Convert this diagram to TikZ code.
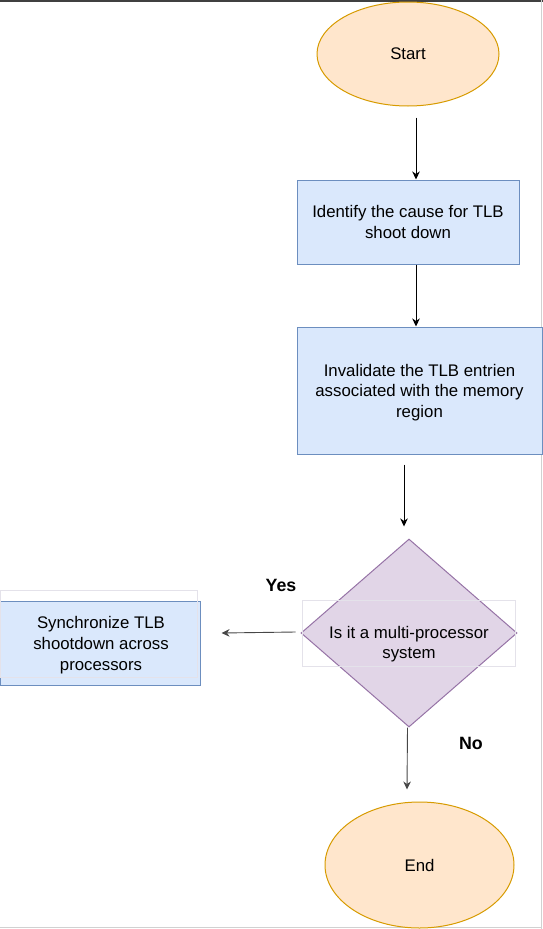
\documentclass[tikz,border=0pt]{standalone}
\usepackage{fontspec}
\setmainfont{Liberation Sans}
\usepackage{tikz}
\usetikzlibrary{positioning,arrows.meta,calc,shapes.geometric}
\definecolor{procfill}{HTML}{DAE8FC}
\definecolor{procline}{HTML}{6C8EBF}
\definecolor{termfill}{HTML}{FFE6CC}
\definecolor{termline}{HTML}{D79B00}
\definecolor{decfill}{HTML}{E1D5E7}
\definecolor{decline}{HTML}{9673A6}
\definecolor{ghostline}{HTML}{E4E2EA}
\tikzset{
  base/.style={font=\fontsize{16.8}{20.2}\selectfont, align=center, inner sep=0pt},
  term/.style={base, ellipse, draw=termline, fill=termfill, line width=1pt},
  proc/.style={base, rectangle, draw=procline, fill=procfill, line width=1pt},
  decision/.style={base, diamond, draw=decline, fill=decfill, line width=1pt, shape aspect=1.15},
  ghost/.style={rectangle, draw=ghostline, line width=1pt, inner sep=0pt},
  flow/.style={-{Stealth[length=8pt,width=7.5pt,inset=2.5pt]}, line width=0.9pt},
  branch/.style={flow, draw=black!72},
  tag/.style={font=\fontsize{17.8}{20}\selectfont\bfseries, inner sep=0pt}
}

\begin{document}
\begin{tikzpicture}[x=1pt,y=-1pt]
  \useasboundingbox (0,0) rectangle (543,929);
  % frame
  \draw[black!75,line width=1.5pt] (0,0.75) -- (543,0.75);
  \draw[black!18,line width=1pt] (541.5,0) -- (541.5,929);
  \draw[black!18,line width=1pt] (0,927.5) -- (541.5,927.5);
  % nodes
  \node[term, minimum width=182pt, minimum height=104pt] (start) at (408,54) {Start};
  \node[proc, minimum width=222pt, minimum height=84pt] (cause) at (408,222)
    {Identify the cause for TLB\\shoot down};
  \node[proc, minimum width=245pt, minimum height=127pt] (inval) at (419.5,390.5) {};
  \node[base] (invaltext) at (419.5,392.5)
    {Invalidate the TLB entrien\\associated with the memory\\region};
  \node[decision, minimum width=216pt, minimum height=188pt] (multi) at (409,633) {};
  \node[ghost, minimum width=213pt, minimum height=66pt] (multibox) at (408.5,633) {};
  \node[base] (multitext) at (409,644.5) {Is it a multi-processor\\system};
  \node[proc, minimum width=200pt, minimum height=84pt] (sync) at (100,643) {};
  \node[ghost, minimum width=197pt, minimum height=87pt] (syncbox) at (98.5,633.5) {};
  \node[base, font=\fontsize{16.8}{21}\selectfont] (synctext) at (101,645)
    {Synchronize TLB\\shootdown across\\processors};
  \node[term, minimum width=189pt, minimum height=126pt] (finish) at (419.5,865) {End};
  % connectors
  \draw[flow] ($(start.south)+(8,11)$) -- ($(cause.north)+(8,0)$);
  \draw[flow] ($(cause.south)+(8,0)$) -- ($(inval.north)+(-3.5,0)$);
  \draw[flow] ($(inval.south)+(-15.5,10)$) -- ($(multi.north)+(-5,-12)$);
  \draw[branch] ($(multi.west)+(-5,-1)$) -- ($(sync.east)+(21,-10)$);
  \draw[branch] ($(multi.south)+(-1.5,0)$) -- ($(finish.north)+(-12.5,-12)$);
  % labels
  \node[tag] (yes) at (281,585) {Yes};
  \node[tag] (no) at (471,743) {No};
\end{tikzpicture}
\end{document}
